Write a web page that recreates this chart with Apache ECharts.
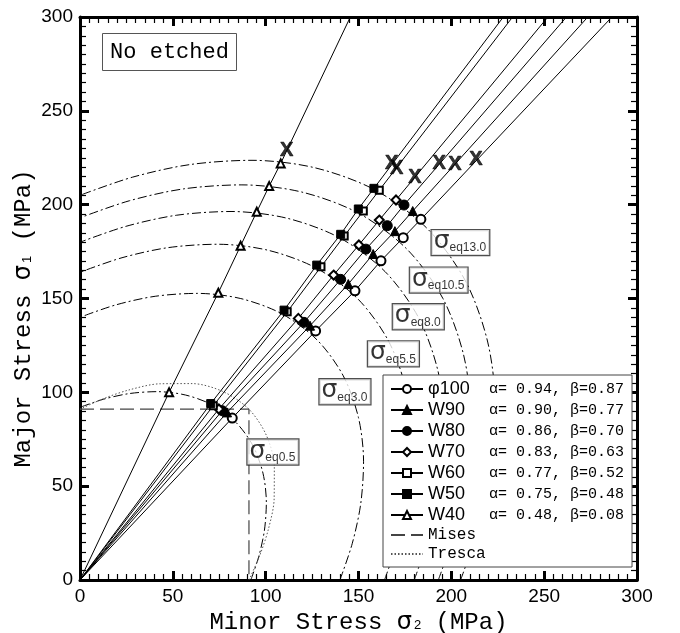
<!DOCTYPE html>
<html>
<head>
<meta charset="utf-8">
<script src="https://cdn.jsdelivr.net/npm/echarts@6/dist/echarts.min.js"></script>
<style>
  html, body { margin: 0; padding: 0; background: #fff; }
  #chart { width: 680px; height: 633px; }
</style>
</head>
<body>
<div id="chart"></div>
<script>
// specimens and their Hill parameters (legend)
const specimens = ['φ100', 'W90', 'W80', 'W70', 'W60', 'W50', 'W40'];
const alphaBeta = ['α= 0.94, β=0.87', 'α= 0.90, β=0.77', 'α= 0.86, β=0.70', 'α= 0.83, β=0.63',
                   'α= 0.77, β=0.52', 'α= 0.75, β=0.48', 'α= 0.48, β=0.08'];

// [σ2, σ1] where each stress path crosses σeq0.5 ... σeq13.0
const phi100 = [[82.0, 86.3], [126.9, 132.7], [148.1, 154.1], [162.1, 170.1], [174.1, 182.4], [183.6, 192.2]];
const w90 = [[79.2, 89.3], [123.9, 135.5], [144.5, 157.7], [157.9, 173.7], [169.6, 185.9], [179.2, 196.6]];
const w80 = [[76.6, 90.2], [120.6, 137.3], [140.4, 160.2], [154.0, 176.3], [165.5, 188.8], [174.5, 199.8]];
const w70 = [[74.8, 91.1], [117.6, 139.4], [136.6, 162.5], [150.2, 178.5], [161.2, 191.8], [170.2, 202.5]];
const w60 = [[71.8, 92.9], [111.6, 142.9], [129.8, 166.9], [142.3, 183.3], [152.6, 196.6], [161.2, 207.7]];
const w50 = [[70.4, 94.0], [109.9, 143.8], [127.5, 167.8], [140.4, 184.2], [149.9, 197.7], [158.3, 208.7]];
const w40 = [[48.0, 100.0], [74.5, 153.1], [86.5, 178.1], [95.2, 196.2], [101.9, 209.9], [108.1, 222.0]];
const paths = [phi100, w90, w80, w70, w60, w50, w40];

// σ2 where each stress path leaves the plot at σ1 = 300
const lineTops = [286.5, 273.5, 262.0, 252.0, 233.0, 228.0, 145.6];

// fracture points (X)
const fracture = [[111.3, 229.1], [167.8, 222.0], [170.5, 219.3], [180.4, 214.5],
                  [193.5, 222.0], [201.9, 221.6], [213.2, 224.1]];

const eqNames = ['eq0.5', 'eq3.0', 'eq5.5', 'eq8.0', 'eq10.5', 'eq13.0'];
const eqLevels = [92, 140, 164, 180, 193, 205];
const curveShape = [[1, 0], [1.0471, 0.1379], [1.0799, 0.2894], [1.0909, 0.4519], [1.0712, 0.6185],
                    [1.0128, 0.7772], [0.9129, 0.9129], [0.7772, 1.0128], [0.6185, 1.0712],
                    [0.4519, 1.0909], [0.2894, 1.0799], [0.1379, 1.0471], [0, 1]];

// yield loci
const yieldStress = 91;
const squareLocus = [[0, 91], [91, 91], [91, 0]];
const ellipseLocus = [[1, 0], [1.0625, 0.1399], [1.1154, 0.2989], [1.1491, 0.4760], [1.1501, 0.6640],
                      [1.1033, 0.8466], [1, 1], [0.8466, 1.1033], [0.6640, 1.1501], [0.4760, 1.1491],
                      [0.2989, 1.1154], [0.1399, 1.0625], [0, 1]];

const chart = echarts.init(document.getElementById('chart'));

const symbols = ['emptyCircle', 'triangle', 'circle', 'emptyDiamond', 'emptyRect', 'rect', 'emptyTriangle'];
const symbolSizes = [9, 9, 10, 9, 7, 8, 8];

// where the σeq boxes sit
const eqLabelAt = [[103.9, 68.2], [142.7, 100.3], [168.8, 120.5], [182.2, 140.3], [193.2, 159.8], [204.9, 179.8]];

const series = [];

eqLevels.forEach(function (lv, i) {
    series.push({
        type: 'line',
        name: 'σ' + eqNames[i],
        data: curveShape.map(p => [p[0] * lv, p[1] * lv]),
        smooth: 0.3,
        symbol: 'none',
        silent: true,
        lineStyle: { color: '#000', width: 1, type: [9, 3, 2, 3] },
        z: 1
    });
});

series.push({
    type: 'line',
    name: 'Mises',
    data: squareLocus,
    symbol: 'none',
    silent: true,
    itemStyle: { color: 'rgba(0,0,0,0)' },
    lineStyle: { color: '#444', width: 1.2, type: [14, 6] },
    z: 1
});
series.push({
    type: 'line',
    name: 'Tresca',
    data: ellipseLocus.map(p => [p[0] * yieldStress, p[1] * yieldStress]),
    smooth: 0.3,
    symbol: 'none',
    silent: true,
    itemStyle: { color: 'rgba(0,0,0,0)' },
    lineStyle: { color: '#555', width: 1, type: [1.5, 2] },
    z: 1
});

specimens.forEach(function (name, i) {
    series.push({
        type: 'line',
        name: name,
        data: [{ value: [0, 0], symbol: 'none' }]
            .concat(paths[i].map(p => ({ value: p })))
            .concat([{ value: [lineTops[i], 300], symbol: 'none' }]),
        symbol: symbols[i],
        symbolSize: symbolSizes[i],
        showSymbol: true,
        showAllSymbol: true,
        lineStyle: { color: '#000', width: 1 },
        itemStyle: { color: '#000', borderColor: '#000', borderWidth: 1 },
        z: 3
    });
});

series.push({
    type: 'scatter',
    name: 'fracture',
    data: fracture,
    symbolSize: 0,
    silent: true,
    itemStyle: { color: '#000' },
    label: {
        show: true, position: 'inside', formatter: 'X',
        fontSize: 20, fontWeight: 'bold', color: '#000', fontFamily: 'Liberation Sans',
        textBorderWidth: 0.6, textBorderColor: '#000'
    },
    z: 6
});

series.push({
    type: 'scatter',
    name: 'eqLabels',
    data: eqLabelAt.map((p, i) => ({ name: eqNames[i], value: p })),
    symbolSize: 0,
    silent: true,
    itemStyle: { color: '#000' },
    label: {
        show: true, position: 'inside',
        formatter: p => '{s|σ}{e|' + p.name + '}',
        backgroundColor: '#fff', borderColor: '#222', borderWidth: 1.2,
        padding: [1, 3, 1, 2],
        rich: {
            s: { fontSize: 25, fontFamily: 'DejaVu Sans', color: '#000', lineHeight: 23, verticalAlign: 'bottom' },
            e: { fontSize: 12, fontFamily: 'Liberation Sans', color: '#000', lineHeight: 23, verticalAlign: 'bottom', padding: [6, 0, 0, 0] }
        }
    },
    z: 8
});

const axisBase = {
    type: 'value', min: 0, max: 300, interval: 50,
    axisLine: { onZero: false, lineStyle: { color: '#000', width: 3 } },
    axisTick: { inside: true, length: 9, lineStyle: { color: '#000', width: 3 } },
    minorTick: { show: true, splitNumber: 10, length: 6, lineStyle: { color: '#000', width: 1.2 } },
    splitLine: { show: false },
    axisLabel: { color: '#000', fontSize: 19, fontFamily: 'Liberation Sans', margin: 7 }
};
const nameStyle = {
    fontSize: 24, fontFamily: 'Liberation Mono', color: '#000',
    rich: {
        g: { fontSize: 24, fontFamily: 'DejaVu Sans', color: '#000' },
        n: { fontSize: 13, fontFamily: 'Liberation Sans', color: '#000', padding: [6, 0, 0, 2] }
    }
};

const option = {
    animation: false,
    backgroundColor: '#fff',
    grid: { left: 80, right: 43, top: 17, bottom: 53, outerBoundsMode: 'none' },
    xAxis: [
        Object.assign({}, axisBase, {
            position: 'bottom',
            name: 'Minor Stress {g|σ}{n|2} (MPa)',
            nameLocation: 'middle', nameGap: 27, nameTextStyle: nameStyle
        }),
        Object.assign({}, axisBase, { position: 'top', axisLabel: { show: false } })
    ],
    yAxis: [
        Object.assign({}, axisBase, {
            position: 'left',
            name: 'Major Stress {g|σ}{n|1} (MPa)',
            nameLocation: 'middle', nameGap: 44, nameMoveOverlap: false,
            nameTextStyle: Object.assign({}, nameStyle, { padding: [0, 40, 0, 0] })
        }),
        Object.assign({}, axisBase, { position: 'right', axisLabel: { show: false } })
    ],
    legend: {
        data: specimens.concat(['Mises', 'Tresca']),
        orient: 'vertical',
        left: 383, top: 375,
        padding: [5, 8, 5, 7],
        itemGap: 3,
        itemWidth: 32, itemHeight: 10,
        backgroundColor: '#fff',
        borderColor: '#444', borderWidth: 1, borderRadius: 0,
        selectedMode: false,
        formatter: function (name) {
            const i = specimens.indexOf(name);
            if (i < 0) return '{m|' + name + '}';
            return '{n|' + name + '}{a|' + alphaBeta[i] + '}';
        },
        textStyle: {
            color: '#000', lineHeight: 14,
            rich: {
                n: { width: 61, fontSize: 18, fontFamily: 'Liberation Sans', color: '#000', lineHeight: 14 },
                a: { width: 134, fontSize: 15, fontFamily: 'Liberation Mono', color: '#000', lineHeight: 14 },
                m: { fontSize: 16, fontFamily: 'Liberation Mono', color: '#000', lineHeight: 14 }
            }
        }
    },
    graphic: [{
        type: 'group', left: 102, top: 33,
        children: [
            { type: 'rect', shape: { x: 0, y: 0, width: 134, height: 37 }, style: { fill: '#fff', stroke: '#555', lineWidth: 1 } },
            { type: 'text', x: 67, y: 19, style: { text: 'No etched', fontSize: 22, fontFamily: 'Liberation Mono', fill: '#000', align: 'center', verticalAlign: 'middle' } }
        ]
    }],
    series: series
};

chart.setOption(option);
</script>
</body>
</html>
